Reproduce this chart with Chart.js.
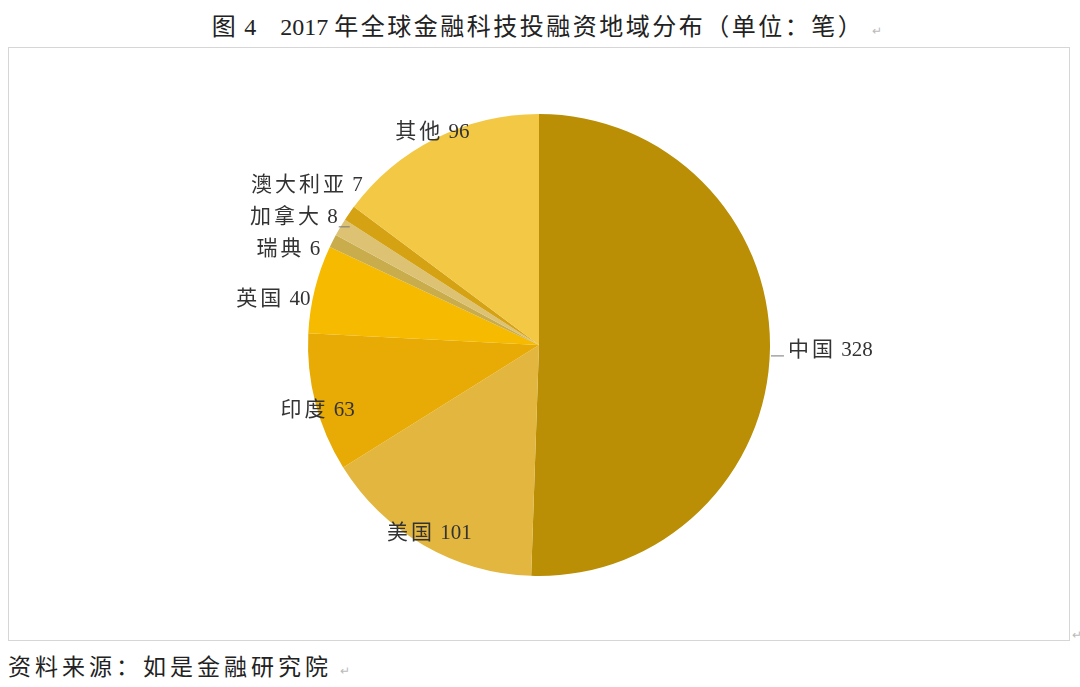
<!DOCTYPE html>
<html>
<head>
<meta charset="utf-8">
<script src="https://cdn.jsdelivr.net/npm/chart.js@4/dist/chart.umd.min.js"></script>
<style>
  html, body { margin:0; padding:0; background:#fff; }
  body { width:1080px; height:687px; position:relative; overflow:hidden;
         font-family:'Liberation Serif','Noto Sans CJK SC',serif; color:#222; }
  #title { position:absolute; left:0; top:7px; width:1094px; text-align:center; font-size:24px; }
  #title .cjk { letter-spacing:2.5px; }
  #box { position:absolute; left:8px; top:47px; width:1062px; height:594px;
         border:1.5px solid #d6d6d6; box-sizing:border-box; }
  #box canvas { position:absolute; left:0; top:0; }
  #source { position:absolute; left:8px; top:648px; font-size:23px; letter-spacing:4px; }
  .mark { color:#bbb; font-size:12px; margin-left:8px; letter-spacing:0; }
  #endmark { position:absolute; left:1072px; top:628px; color:#bbb; font-size:12px; }
</style>
</head>
<body>
<div id="title"><span class="cjk">图</span> 4&nbsp;&nbsp;&nbsp;&nbsp;2017 <span class="cjk">年全球金融科技投融资地域分布（单位：笔）</span><span class="mark">↵</span></div>
<div id="box"><canvas id="chart"></canvas></div>
<div id="endmark">↵</div>
<div id="source">资料来源：如是金融研究院<span class="mark">↵</span></div>
<script>
// ======= Данные =======
const regionNames = ["中国", "美国", "印度", "英国", "瑞典", "加拿大", "澳大利亚", "其他"];
const dealCounts = [328, 101, 63, 40, 6, 8, 7, 96];
const sliceColors = ["#ba8e05", "#e3b63f", "#e8aa05", "#f6ba00", "#c9ad4c", "#dcc272", "#d4a212", "#f3c844"];

// how each label sits around the pie
const labelLayout = [
  {mode:"outRight", leader:true},
  {mode:"center", f:0.95, dy:-2},
  {mode:"center", f:0.99, dy:8},
  {mode:"leftStack"},
  {mode:"leftStack"},
  {mode:"leftStack", leader:true},
  {mode:"leftStack"},
  {mode:"center", f:1.03, dy:0}
];

// name with wide spacing, number plain
function drawLabel(ctx, i, x, y, align) {
  const name = regionNames[i];
  const num = " " + dealCounts[i];
  ctx.letterSpacing = "3px";
  const wName = ctx.measureText(name).width;
  ctx.letterSpacing = "0px";
  const wNum = ctx.measureText(num).width;
  const w = wName + wNum;
  let left = x;
  if (align === "center") left = x - w / 2;
  if (align === "right") left = x - w;
  ctx.textAlign = "left";
  ctx.letterSpacing = "3px";
  ctx.fillText(name, left, y);
  ctx.letterSpacing = "0px";
  ctx.fillText(num, left + wName, y);
}

const pieLabels = {
  id: "pieLabels",
  afterDatasetsDraw(chart) {
    const ctx = chart.ctx;
    const arcs = chart.getDatasetMeta(0).data;
    ctx.save();
    ctx.font = "21px 'Liberation Serif', 'Noto Sans CJK SC', serif";
    ctx.fillStyle = "#333";
    ctx.strokeStyle = "#777";
    ctx.lineWidth = 1;
    ctx.textBaseline = "middle";

    const stack = [];
    arcs.forEach((arc, i) => {
      const lay = labelLayout[i];
      const mid = (arc.startAngle + arc.endAngle) / 2;
      const r = arc.outerRadius;
      if (lay.mode === "center") {
        drawLabel(ctx, i, arc.x + Math.cos(mid) * r * lay.f, arc.y + Math.sin(mid) * r * lay.f + lay.dy, "center");
      } else if (lay.mode === "outRight") {
        const px = arc.x + Math.cos(mid) * r;
        const py = arc.y + Math.sin(mid) * r + 5;
        ctx.beginPath();
        ctx.moveTo(px + 1, py + 2);
        ctx.lineTo(px + 14, py + 2);
        ctx.stroke();
        drawLabel(ctx, i, px + 18, py - 3, "left");
      } else {
        stack.push({i, y: arc.y + Math.sin(mid) * r * 1.03, arc});
      }
    });

    // spread the small left labels upward so they don't overlap
    stack.sort((a, b) => b.y - a.y);
    for (let k = 1; k < stack.length; k++) {
      if (stack[k].y > stack[k-1].y - 32) stack[k].y = stack[k-1].y - 32;
    }
    stack.forEach((s, k) => {
      const arc = s.arc;
      const y = s.y + 12;
      const R = arc.outerRadius + 2;
      const dy = y - arc.y;
      const x = arc.x - Math.sqrt(Math.max(R * R - dy * dy, 0)) - (k === 0 ? 0 : 6);
      if (labelLayout[s.i].leader) {
        ctx.beginPath();
        ctx.moveTo(x + 1, y + 9);
        ctx.lineTo(x + 12, y + 9);
        ctx.stroke();
        drawLabel(ctx, s.i, x, y, "right");
      } else {
        drawLabel(ctx, s.i, x, y, "right");
      }
    });
    ctx.restore();
  }
};

const chart = new Chart(document.getElementById("chart"), {
  type: "pie",
  data: {
    labels: regionNames,
    datasets: [{
      data: dealCounts,
      backgroundColor: sliceColors,
      borderWidth: 0
    }]
  },
  options: {
    responsive: true,
    maintainAspectRatio: false,
    animation: false,
    layout: { padding: { top: 66, bottom: 64, left: 298, right: 298 } },
    plugins: {
      legend: { display: false },
      tooltip: { enabled: false }
    }
  },
  plugins: [pieLabels]
});
</script>
</body>
</html>
